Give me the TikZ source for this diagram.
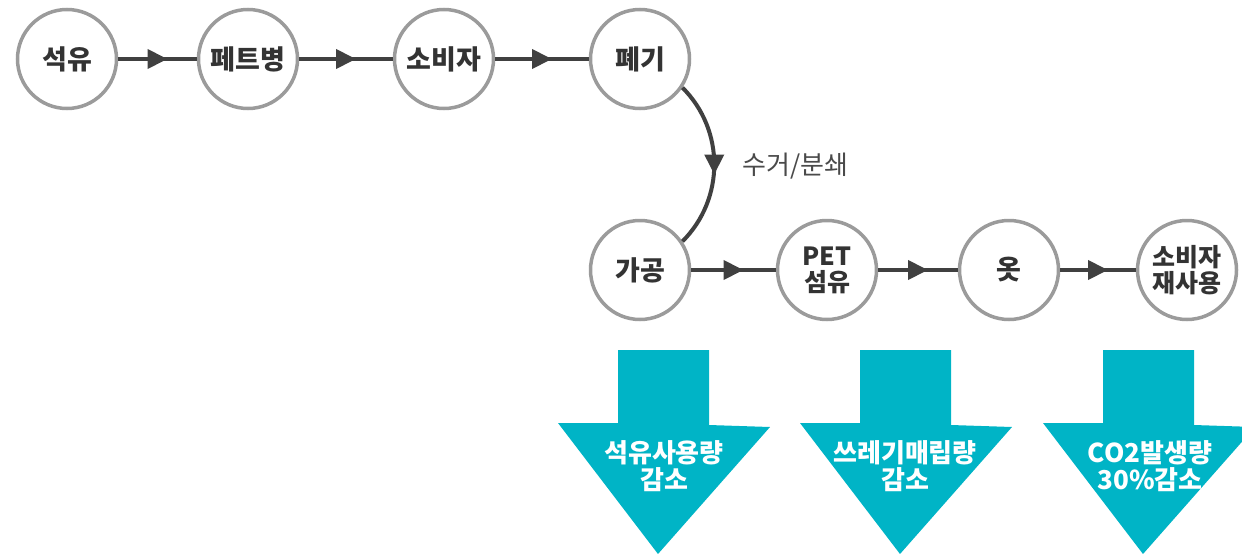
\documentclass[tikz,border=0pt]{standalone}
\usepackage{fontspec}
\setmainfont{Noto Sans CJK KR}
\usetikzlibrary{arrows.meta,decorations.markings}
\definecolor{circgray}{HTML}{9B9B9B}
\definecolor{linegray}{HTML}{404040}
\definecolor{txtgray}{HTML}{333333}
\definecolor{lblgray}{HTML}{4A4A4A}
\definecolor{teal}{HTML}{00B4C6}
\tikzset{
  stage/.style={circle, draw=circgray, line width=3.5pt, minimum size=99pt, inner sep=0pt,
    align=center, text=txtgray, font=\bfseries\fontsize{27}{27}\selectfont},
  twoline/.style={font=\bfseries\fontsize{25}{26}\selectfont},
  flow/.style={draw=linegray, line width=4pt, postaction=decorate,
    decoration={markings, mark=at position 0.5 with {\arrow[xshift=10pt]{Triangle[length=20pt,width=19pt]}}}},
  blocktext/.style={align=center, text=white, font=\bfseries\fontsize{26}{27}\selectfont},
  blockarrow/.style={fill=teal, draw=none},
}
\begin{document}
\begin{tikzpicture}[x=1pt,y=-1pt]
\useasboundingbox (0,0) rectangle (1242,554);
% top row
\node[stage] (s1) at (67,59) {석유};
\node[stage] (s2) at (248,59) {페트병};
\node[stage] (s3) at (444,59) {소비자};
\node[stage] (s4) at (640,59) {폐기};
% bottom row
\node[stage] (b1) at (640,270) {가공};
\node[stage, twoline] (b2) at (827,270) {PET\\섬유};
\node[stage] (b3) at (1009,270) {옷};
\node[stage, twoline] (b4) at (1187,270) {소비자\\재사용};
% connectors
\draw[flow] (s1) -- (s2);
\draw[flow] (s2) -- (s3);
\draw[flow] (s3) -- (s4);
\draw[flow] (s4.-34) to[out=-45,in=45] (b1.34);
\draw[flow] (b1) -- (b2);
\draw[flow] (b2) -- (b3);
\draw[flow] (b3) -- (b4);
\node[anchor=west, text=lblgray, font=\fontsize{26}{28}\selectfont] (lbl) at (739,166) {수거/분쇄};
% block arrows
\foreach \dx in {0,242,485}{
  \fill[blockarrow] ({618+\dx},350) -- ({709+\dx},350) -- ({709+\dx},425) -- ({770+\dx},427)
    -- ({658+\dx},554) -- ({558+\dx},423) -- ({618+\dx},423) -- cycle;
}
\node[blocktext] (t1) at (664,466) {석유사용량\\감소};
\node[blocktext] (t2) at (905,466) {쓰레기매립량\\감소};
\node[blocktext] (t3) at (1150,466) {CO2발생량\\30\%감소};
\end{tikzpicture}
\end{document}
